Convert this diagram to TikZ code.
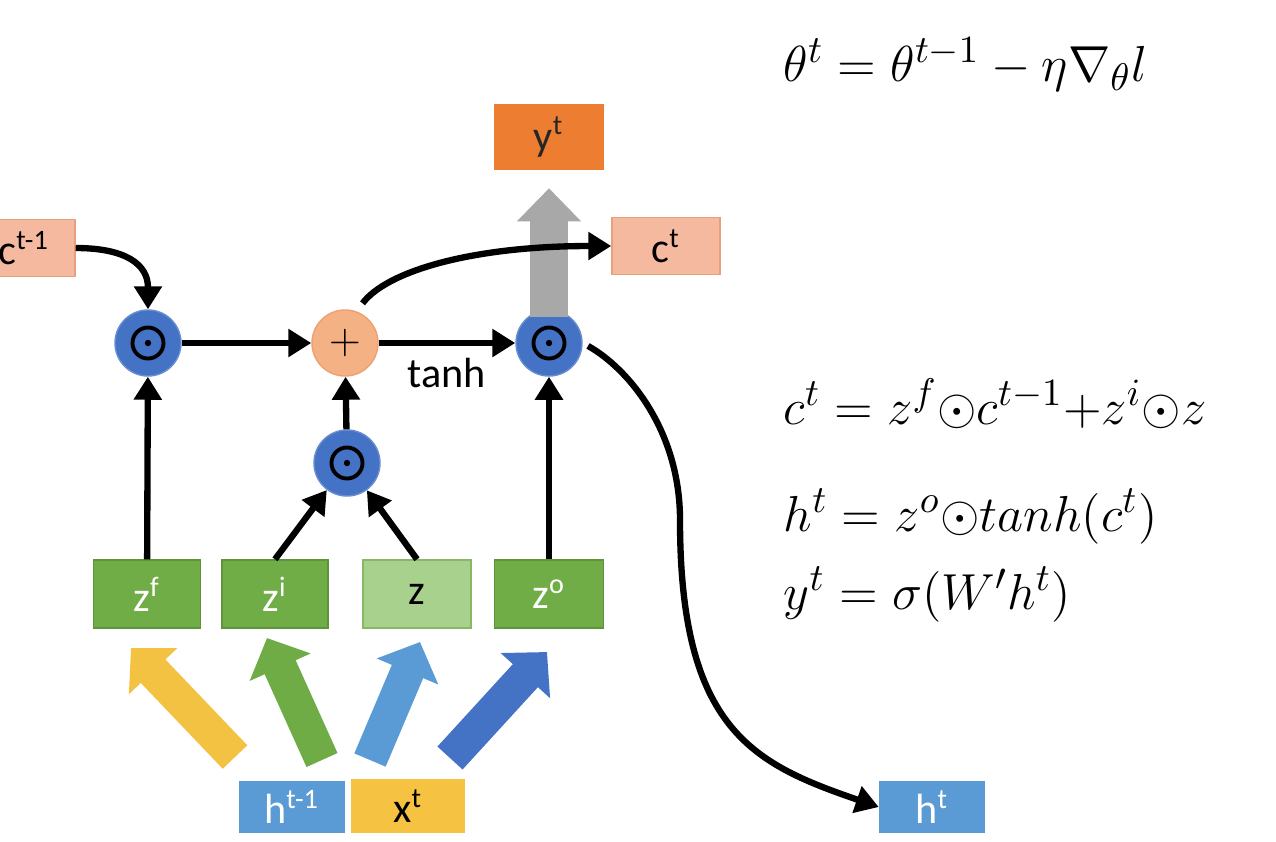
\documentclass[tikz,border=0pt]{standalone}
\usepackage{fontspec}
\setmainfont{Carlito}
\usepackage{amsmath,amssymb}
\usepackage{tikz}
\usetikzlibrary{positioning, arrows.meta}

\definecolor{gategreen}{HTML}{70AD47}
\definecolor{zlight}{HTML}{A9D18E}
\definecolor{zedge}{HTML}{86B866}
\definecolor{cellsalmon}{HTML}{F5B9A0}
\definecolor{celledge}{HTML}{E8A07A}
\definecolor{outorange}{HTML}{ED7D31}
\definecolor{hidblue}{HTML}{5B9BD5}
\definecolor{inyellow}{HTML}{F5C242}
\definecolor{opblue}{HTML}{4472C4}
\definecolor{plusfill}{HTML}{F4B183}
\definecolor{plusedge}{HTML}{EFA072}
\definecolor{fatgrey}{HTML}{A8A8A8}
\definecolor{arryellow}{HTML}{F4C242}
\definecolor{arrgreen}{HTML}{6FAC46}
\definecolor{arrlight}{HTML}{5B9BD5}
\definecolor{arrdark}{HTML}{4472C4}

\begin{document}
\begin{tikzpicture}[
    x=0.01cm, y=-0.01cm,
    font=\fontsize{12}{14}\selectfont,
    box/.style={rectangle, draw, minimum width=1.07cm, minimum height=0.68cm, inner sep=0pt},
    gate/.style={box, fill=gategreen, draw=gategreen!85!black, text=white},
    cell/.style={box, fill=cellsalmon, draw=celledge, minimum width=1.08cm, minimum height=0.57cm},
    hid/.style={box, fill=hidblue, draw=hidblue, text=white, minimum width=1.05cm, minimum height=0.51cm},
    op/.style={circle, minimum size=0.66cm, inner sep=0pt, fill=opblue, draw=opblue!80!white},
    mul/.style={op, path picture={
        \draw[black, line width=1.1pt] (path picture bounding box.center) circle (0.155cm);
        \fill[black] (path picture bounding box.center) circle (0.032cm);}},
    arr/.style={-{Triangle[length=0.23cm, width=0.27cm]}, line width=1.8pt},
    fat/.style={-{Triangle[length=0.32cm, width=0.65cm]}, line width=0.34cm},
    eq/.style={anchor=base west, inner sep=0pt, font=\fontsize{15.5}{19}\selectfont}
]
\useasboundingbox (0,0) rectangle (1276,841);

% cell state and output
\node[cell, minimum width=1.02cm] (cprev) at (24,248) {c\textsuperscript{t-1}};
\node[cell] (ct) at (666,246) {c\textsuperscript{t}};
\node[box, fill=outorange, draw=outorange, text=black!85, minimum width=1.09cm, minimum height=0.65cm] (yt) at (549,137) {y\textsuperscript{t}};

% operators
\node[mul] (m1) at (148,343) {};
\node[op, fill=plusfill, draw=plusedge] (plus) at (345,343) {$+$};
\node[mul] (m3) at (549,343) {};
\node[mul] (m2) at (347,463) {};

% gates
\node[gate] (zf) at (147,594) {z\textsuperscript{f}};
\node[gate, minimum width=1.06cm] (zi) at (275,594) {z\textsuperscript{i}};
\node[box, fill=zlight, draw=zedge, minimum width=1.08cm] (z) at (417,594) {z};
\node[gate, minimum width=1.09cm] (zo) at (549,594) {z\textsuperscript{o}};

% inputs and hidden output
\node[hid] (hprev) at (292,807) {h\textsuperscript{t-1}};
\node[box, fill=inyellow, draw=inyellow, minimum width=1.13cm, minimum height=0.53cm] (xt) at (408,806) {x\textsuperscript{t}};
\node[hid, minimum height=0.50cm] (ht) at (932,807) {h\textsuperscript{t}};

% block arrows into the gates
\coordinate (ya) at (235,757); \coordinate (yb) at (131,648);
\coordinate (ga) at (322,760); \coordinate (gb) at (267,638);
\coordinate (la) at (370,760); \coordinate (lb) at (420,642);
\coordinate (da) at (450,758); \coordinate (db) at (547,652);
\draw[fat, arryellow] (ya) -- (yb);
\draw[fat, arrgreen] (ga) -- (gb);
\draw[fat, arrlight] (la) -- (lb);
\draw[fat, arrdark] (da) -- (db);

\draw[-{Triangle[length=0.33cm, width=0.62cm]}, line width=0.37cm, fatgrey,
      shorten <=-0.08cm, shorten >=0.18cm] (m3) -- (yt);

% connectors
\draw[arr] (cprev.east) .. controls +(50,0) and +(0,-45) .. (m1.north);
\draw[arr] (m1) -- (plus);
\draw[arr] (plus) -- node[below] {tanh} (m3);
\draw[arr, shorten <=0.1cm] (plus.70) .. controls +(30,-40) and +(-140,0) .. (ct.west);
\draw[arr] (m2) -- (plus);
\draw[arr] (zf) -- (m1);
\draw[arr] (zi.north) -- (m2);
\draw[arr] (z.north) -- (m2);
\draw[arr] (zo) -- (m3);
\coordinate (hbend) at (680,520);
\draw[arr, shorten <=0.06cm] (m3.east) .. controls +(45,25) and +(0,-90) .. (hbend)
      .. controls +(0,210) and +(-125,-43) .. (ht.west);

% update equations
\node[eq] (eqtheta) at (783,81) {$\theta^t = \theta^{t-1} - \eta\nabla_\theta l$};
\node[eq] (eqc) at (783,424) {$c^t = z^f{\odot}c^{t-1}{+}z^i{\odot}z$};
\node[eq] (eqh) at (783,531) {$h^t = z^o{\odot}tanh(c^t)$};
\node[eq] (eqy) at (783,609) {$y^t = \sigma(W'h^t)$};
\end{tikzpicture}
\end{document}
